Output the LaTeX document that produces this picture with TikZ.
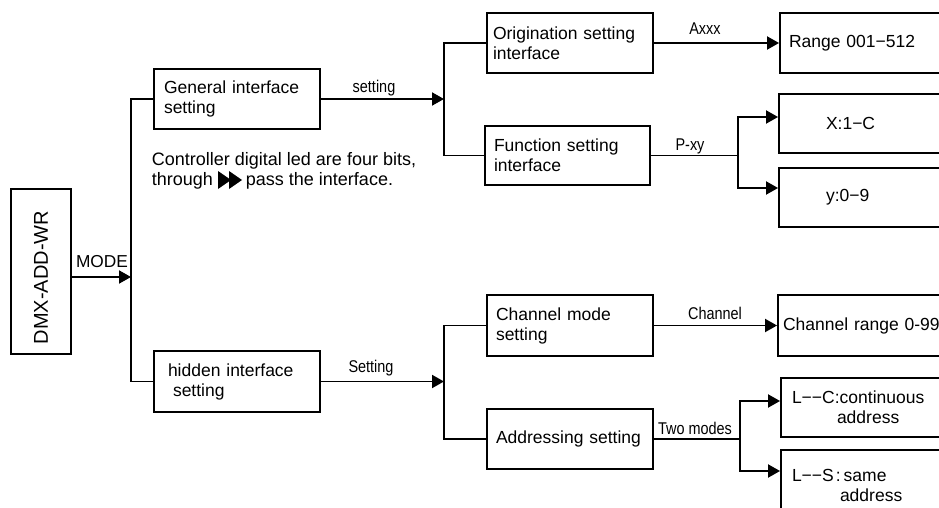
\documentclass[tikz,border=0pt]{standalone}
\usepackage{fontspec}
\setmainfont{Liberation Sans}
\newfontfamily\narrowfont[FakeStretch=0.85]{Liberation Sans}
\usetikzlibrary{arrows.meta,calc}
\begin{document}
\begin{tikzpicture}[x=1pt,y=-1pt,
  line width=1.9pt,
  box/.style={draw, rectangle, inner ysep=0pt, align=left, font=\fontsize{17.5}{20}\selectfont},
  arr/.style={-{Triangle[length=12pt,width=13pt]}},
  lbl/.style={inner sep=0pt, anchor=base, font=\narrowfont\fontsize{17}{20}\selectfont},
  txt/.style={inner sep=0pt, anchor=base west, font=\fontsize{18}{20}\selectfont}]
\useasboundingbox (0,0) rectangle (939,508);

% main boxes
\node[draw, minimum width=60pt, minimum height=165pt, inner sep=0pt] (dmx) at (41,271.5) {};
\node[rotate=90, inner sep=0pt, font=\fontsize{20}{22}\selectfont] (dmxt) at (41,277.5) {DMX-ADD-WR};

\node[box, text width=146pt, inner xsep=10pt, minimum height=60pt] (gen) at (237,99) {General interface\\setting};
\node[box, text width=138pt, inner xsep=14pt, minimum height=61pt] (hid) at (237,381.5) {hidden interface\\\hspace*{5pt}setting};

\node[box, text width=154pt, inner xsep=6pt, minimum height=60pt] (orig) at (570,43) {Origination setting\\interface};
\node[box, text width=147pt, inner xsep=9pt, minimum height=59pt] (func) at (567.5,155.5) {Function setting\\interface};
\node[box, text width=148pt, inner xsep=9pt, minimum height=61pt] (chm) at (570,325.5) {Channel mode\\setting};
\node[box, text width=148pt, inner xsep=9pt, minimum height=60pt] (addr) at (570,439) {Addressing setting};

\node[box, text width=162pt, inner xsep=9pt, minimum height=60pt] (range) at (870,43) {Range 001−512};
\node[box, text width=162pt, inner xsep=9pt, minimum height=59pt] (xbox) at (869,123.5) {\hspace*{38pt}X:1−C};
\node[box, text width=162pt, inner xsep=9pt, minimum height=59pt] (ybox) at (869,197.5) {\hspace*{38pt}y:0−9};
\node[box, text width=170pt, inner xsep=5pt, minimum height=61pt] (chr) at (868,325.5) {Channel range 0-99};
\node[box, text width=158pt, inner xsep=11pt, minimum height=59pt] (lc) at (871,407.5) {L−−C:continuous\\\hspace*{45pt}address};
\node[box, text width=158pt, inner xsep=11pt, minimum height=70pt] (ls) at (871,485) {L−−S\hspace{2pt}:\hspace{3pt}same\\\hspace*{48pt}address};

% note text
\node[txt] (note1) at (151,165) {Controller digital led are four bits,};
\node[txt] (note2) at (151,185) {through};
\node[txt] (note3) at (245,185) {pass the interface.};
\fill (218,171) -- (218,189) -- (231,180) -- cycle;
\fill (229,171) -- (229,189) -- (242,180) -- cycle;

% connectors
\coordinate (b1) at (131,277);
\draw[arr] (dmx.east |- b1) -- (b1);
\draw (gen.west) -| (b1) |- (hid.west);

\coordinate (b2) at (444,99);
\draw[arr] (gen.east) -- (b2);
\draw (orig.west) -| (b2) |- (func.west);

\coordinate (b3) at (444,381.5);
\draw[arr] (hid.east) -- (b3);
\draw (chm.west) -| (b3) |- (addr.west);

\draw[arr] (orig.east) -- (range.west);
\coordinate (s1) at (738,155.5);
\draw (func.east) -- (s1);
\draw[arr] (s1) |- ([yshift=6.5pt]xbox.west);
\draw[arr] (s1) |- ([yshift=9.5pt]ybox.west);

\draw[arr] (chm.east) -- (chr.west);
\coordinate (s2) at (740,439);
\draw (addr.east) -- (s2);
\draw[arr] (s2) |- ([yshift=6.5pt]lc.west);
\draw[arr] (s2) |- ([yshift=14pt]ls.west);

% labels
\node[inner sep=0pt, anchor=base, font=\fontsize{17.3}{20}\selectfont] (lmode) at (102,267) {MODE};
\node[lbl] (lset1) at (374,93) {setting};
\node[lbl] (lset2) at (371,372) {Setting};
\node[lbl] (laxxx) at (705,35) {Axxx};
\node[lbl] (lpxy) at (690,150) {P-xy};
\node[lbl] (lchan) at (715,319) {Channel};
\node[lbl] (ltwo) at (695,434) {Two modes};
\end{tikzpicture}
\end{document}
